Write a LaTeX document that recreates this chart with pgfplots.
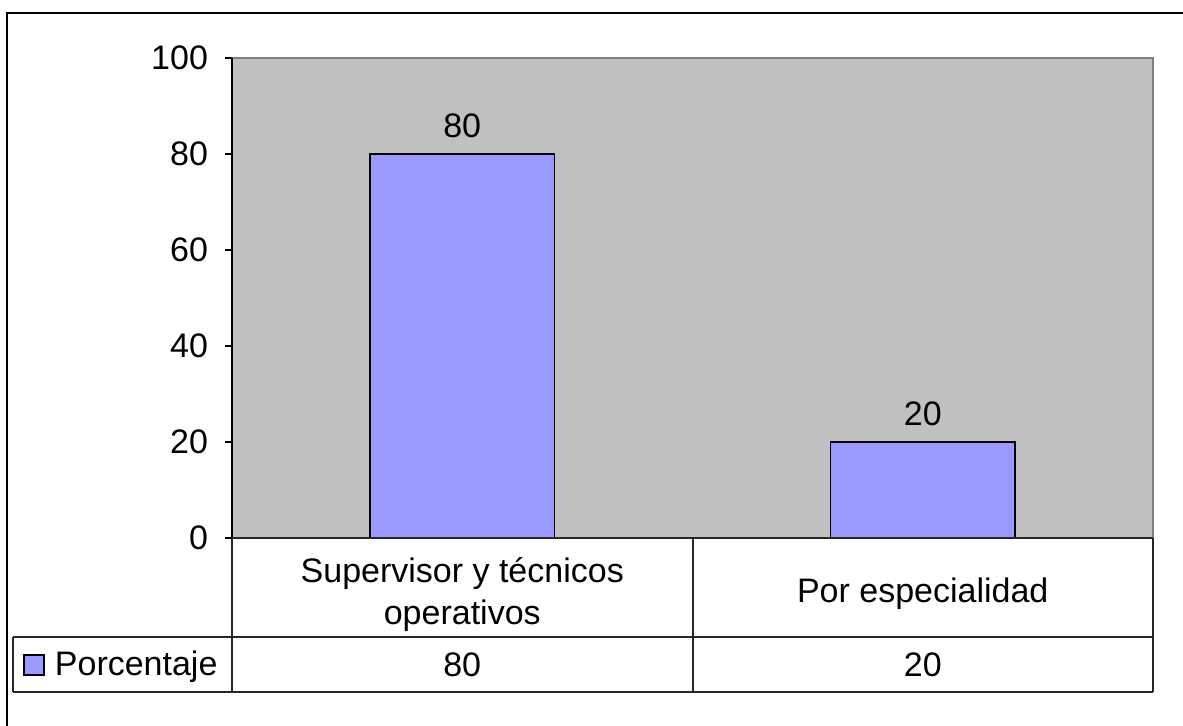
\documentclass[border=0pt]{standalone}
\usepackage{pgfplots}
\pgfplotsset{compat=1.18}
\usepackage{fontspec}
\setmainfont{Liberation Sans}
\definecolor{barblue}{HTML}{9999FF}
\definecolor{plotgray}{HTML}{C0C0C0}
\newcommand{\chartfont}{\fontsize{17}{21}\selectfont}
\pgfplotsset{
  square legend/.style={
    legend image code/.code={
      \draw[#1, line width=0.8pt] (0pt,-5pt) rectangle (10pt,5pt);
      \path (13pt,0pt);
    }
  }
}
\begin{document}
\begin{tikzpicture}[x=0.5pt,y=-0.5pt]
\useasboundingbox (0,0) rectangle (1183,725);
% outer chart frame (cut at right and bottom)
\draw[line width=1.2pt] (7,760) -- (7,13) -- (1220,13);
\begin{axis}[
  at={(116pt,-269pt)}, anchor=south west,
  width=460.5pt, height=240pt, scale only axis,
  xmin=-0.5, xmax=1.5, ymin=0, ymax=100,
  ytick={0,20,...,100},
  xtick={0,1},
  xticklabels={{Supervisor y técnicos\\operativos}, {Por especialidad}},
  x tick label style={align=center, anchor=center, yshift=-24.5pt},
  xtick style={draw=none},
  y tick label style={xshift=-5pt},
  tick label style={font=\chartfont},
  /pgf/number format/assume math mode=true,
  axis lines=left,
  axis line style={-, line width=0.8pt},
  axis background/.style={fill=plotgray, draw=gray, line width=1pt},
  tick align=outside, major tick length=3.5pt,
  y tick style={black, line width=0.6pt},
  bar width=0.4,
  clip=false,
  legend style={at={(axis description cs:-0.227,-0.2646)}, anchor=west,
    draw=none, fill=none, font=\chartfont, inner sep=0pt},
]
\addplot[ybar, fill=barblue, draw=black, line width=0.8pt, square legend,
  nodes near coords,
  nodes near coords style={font=\chartfont, text=black, yshift=4.5pt}]
  coordinates {(0,80) (1,20)};
\addlegendentry{Porcentaje}
\node[font=\chartfont] at (axis cs:0,-26.5) {80};
\node[font=\chartfont] at (axis cs:1,-26.5) {20};
\end{axis}
% data table grid
\draw[line width=0.6pt, black!85]
  (232,538) -- (1153,538)
  (13,637) -- (1153,637)
  (13,692) -- (1153,692)
  (13,637) -- (13,692)
  (232,538) -- (232,692)
  (693,538) -- (693,692)
  (1153,538) -- (1153,692);
\end{tikzpicture}
\end{document}
